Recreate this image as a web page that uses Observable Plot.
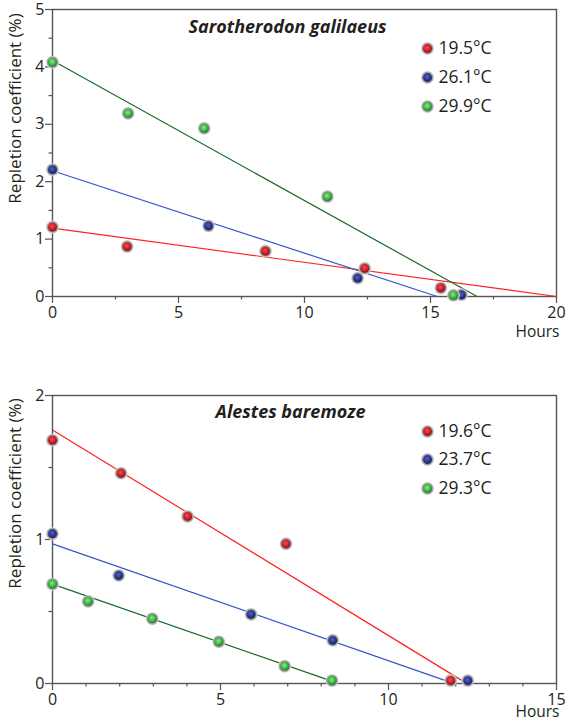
<!DOCTYPE html>
<html><head><meta charset="utf-8">
<script src="https://cdn.jsdelivr.net/npm/d3@7"></script>
<script src="https://cdn.jsdelivr.net/npm/@observablehq/plot@0.6"></script>
<style>
body{margin:0;background:#fff;}
#chart{width:567px;}
#chart svg{display:block;overflow:visible;}
</style></head><body>
<svg width="0" height="0" style="position:absolute">
  <defs>
    <radialGradient id="halo" cx="50%" cy="50%" r="50%">
      <stop offset="0%" stop-color="#7a7a7a"/>
      <stop offset="72%" stop-color="#909090"/>
      <stop offset="100%" stop-color="#dcdcdc"/>
    </radialGradient>
    <radialGradient id="g0" cx="45%" cy="40%" r="60%">
      <stop offset="0%" stop-color="#ff4a40"/>
      <stop offset="60%" stop-color="#d0202a"/>
      <stop offset="100%" stop-color="#80101a"/>
    </radialGradient>
    <radialGradient id="g1" cx="45%" cy="40%" r="60%">
      <stop offset="0%" stop-color="#5060c0"/>
      <stop offset="60%" stop-color="#2c3890"/>
      <stop offset="100%" stop-color="#161e60"/>
    </radialGradient>
    <radialGradient id="g2" cx="45%" cy="40%" r="60%">
      <stop offset="0%" stop-color="#8aec80"/>
      <stop offset="60%" stop-color="#3cbc48"/>
      <stop offset="100%" stop-color="#1a7a28"/>
    </radialGradient>
  </defs>
</svg>
<div id="chart"></div>
<script>
// ---------- Data: Sarotherodon galilaeus ----------
const sgTemps = ["19.5°C", "26.1°C", "29.9°C"];
const sgHours195 = [0, 2.96, 8.45, 12.39, 15.41];
const sgRepl195  = [1.21, 0.87, 0.79, 0.49, 0.15];
const sgHours261 = [0, 6.19, 12.11, 16.23];
const sgRepl261  = [2.21, 1.23, 0.32, 0.03];
const sgHours299 = [0, 3.0, 6.02, 10.91, 15.91];
const sgRepl299  = [4.08, 3.19, 2.93, 1.74, 0.02];
const sgFitIntercept = [1.19, 2.19, 4.11];
const sgFitEndHour   = [20, 15.27, 16.85];
const sgFitEndRepl   = [0, 0, 0];
const sgXTicks = [0, 5, 10, 15, 20];
const sgXMinor = [2.5, 7.5, 12.5, 17.5];
const sgYTicks = [0, 1, 2, 3, 4, 5];
const sgYMinor = [0.5, 1.5, 2.5, 3.5, 4.5];

// ---------- Data: Alestes baremoze ----------
const abTemps = ["19.6°C", "23.7°C", "29.3°C"];
const abHours196 = [0, 2.04, 4.02, 6.95, 11.85];
const abRepl196  = [1.69, 1.46, 1.16, 0.97, 0.02];
const abHours237 = [0, 1.97, 5.91, 8.34, 12.36];
const abRepl237  = [1.04, 0.75, 0.48, 0.30, 0.02];
const abHours293 = [0, 1.06, 2.97, 4.95, 6.91, 8.32];
const abRepl293  = [0.69, 0.57, 0.45, 0.29, 0.12, 0.02];
const abFitIntercept = [1.76, 0.97, 0.69];
const abFitEndHour   = [12.19, 11.7, 8.27];
const abFitEndRepl   = [0.02, 0.02, 0.02];
const abXTicks = [0, 5, 10, 15];
const abXMinor = [1, 2, 3, 4, 6, 7, 8, 9, 11, 12, 13, 14];
const abYTicks = [0, 1, 2];
const abYMinor = [0.5, 1.5];

const lineColors = ["#ff2020", "#3455c8", "#1c6a2a"];
const ink = "#231f20";
const axisGray = "#555";
const FONT = "'Open Sans', 'Noto Sans', sans-serif";
const fmt = d => `${d}`;

function panel(o) {
  const W = 567, mL = 52, mR = 11;
  const pts = o.temps.map((t, i) => o.hours[i].map((h, j) => ({hour: h, repl: o.repl[i][j], temp: t})));
  const fits = o.temps.map((t, i) => ({temp: t, x1: 0, y1: o.fitIntercept[i], x2: o.fitEndHour[i], y2: o.fitEndRepl[i], k: i}));
  const marks = [
    Plot.frame({stroke: axisGray, strokeWidth: 1.4}),
    Plot.axisX({ticks: o.xMajor, tickFormat: fmt, tickSize: 7, tickPadding: 3, stroke: axisGray, strokeWidth: 1.2, fill: ink, fontSize: 16, label: null}),
    Plot.axisX({ticks: o.xMinor, tickSize: 3.5, text: null, stroke: axisGray, strokeWidth: 1.2, label: null}),
    Plot.axisY({ticks: o.yMajor, tickFormat: fmt, tickSize: 7, tickPadding: 1, stroke: axisGray, strokeWidth: 1.2, fill: ink, fontSize: 16, label: null}),
    Plot.axisY({ticks: o.yMinor, tickSize: 3.5, text: null, stroke: axisGray, strokeWidth: 1.2, label: null}),
    ...fits.map(f => Plot.link([f], {x1: "x1", y1: "y1", x2: "x2", y2: "y2", stroke: lineColors[f.k], strokeWidth: 1.2})),
  ];
  pts.forEach((s, i) => {
    marks.push(Plot.dot(s, {x: "hour", y: "repl", r: 6.5, fill: "url(#halo)", stroke: "none"}));
    marks.push(Plot.dot(s, {x: "hour", y: "repl", r: 4.4, fill: `url(#g${i})`, stroke: "none"}));
  });
  // legend
  o.temps.forEach((t, i) => {
    const dy = o.legendY[i] - o.marginTop;
    marks.push(Plot.dot([t], {frameAnchor: "top-left", dx: 427 - mL, dy, r: 6.5, fill: "url(#halo)", stroke: "none"}));
    marks.push(Plot.dot([t], {frameAnchor: "top-left", dx: 427 - mL, dy, r: 4.4, fill: `url(#g${i})`, stroke: "none"}));
    marks.push(Plot.text([t], {text: d => d, frameAnchor: "top-left", dx: 438 - mL, dy, textAnchor: "start", lineAnchor: "middle", fontSize: 17.5, fill: ink}));
  });
  // title
  marks.push(Plot.text([o.title], {text: d => d, frameAnchor: "top-left", dx: o.titleX - mL, dy: o.titleY - o.marginTop, textAnchor: "middle", lineAnchor: "middle", fontSize: 18, fontWeight: "bold", fontStyle: "italic", fill: ink}));
  // y label
  marks.push(Plot.text(["Repletion coefficient (%)"], {text: d => d, frameAnchor: "top-left", dx: 15 - mL, dy: o.yLabelY - o.marginTop, rotate: -90, textAnchor: "middle", lineAnchor: "middle", fontSize: 17, fill: ink}));
  // x label
  marks.push(Plot.text(["Hours"], {text: d => d, frameAnchor: "bottom-right", dx: 3, dy: o.hoursDy, textAnchor: "end", lineAnchor: "middle", fontSize: 15.5, fill: ink}));

  return Plot.plot({
    width: W, height: o.height,
    marginLeft: mL, marginRight: mR, marginTop: o.marginTop, marginBottom: o.marginBottom,
    style: {fontFamily: FONT, fontSize: "16px", background: "#fff", color: ink},
    x: {domain: o.xDomain},
    y: {domain: o.yDomain},
    marks
  });
}

const top1 = panel({
  height: 342, marginTop: 9, marginBottom: 46,
  xDomain: [0, 20], yDomain: [0, 5],
  xMajor: sgXTicks, xMinor: sgXMinor, yMajor: sgYTicks, yMinor: sgYMinor,
  temps: sgTemps,
  hours: [sgHours195, sgHours261, sgHours299],
  repl: [sgRepl195, sgRepl261, sgRepl299],
  fitIntercept: sgFitIntercept, fitEndHour: sgFitEndHour, fitEndRepl: sgFitEndRepl,
  title: "Sarotherodon galilaeus", titleX: 287, titleY: 27,
  legendY: [48, 77, 106], yLabelY: 108, hoursDy: 36
});
const bottom1 = panel({
  height: 381, marginTop: 53, marginBottom: 40,
  xDomain: [0, 15], yDomain: [0, 2],
  xMajor: abXTicks, xMinor: abXMinor, yMajor: abYTicks, yMinor: abYMinor,
  temps: abTemps,
  hours: [abHours196, abHours237, abHours293],
  repl: [abRepl196, abRepl237, abRepl293],
  fitIntercept: abFitIntercept, fitEndHour: abFitEndHour, fitEndRepl: abFitEndRepl,
  title: "Alestes baremoze", titleX: 290, titleY: 412 - 342,
  legendY: [431 - 342, 459 - 342, 488 - 342], yLabelY: 493 - 342, hoursDy: 29
});
document.getElementById("chart").append(top1, bottom1);
</script>
</body></html>
